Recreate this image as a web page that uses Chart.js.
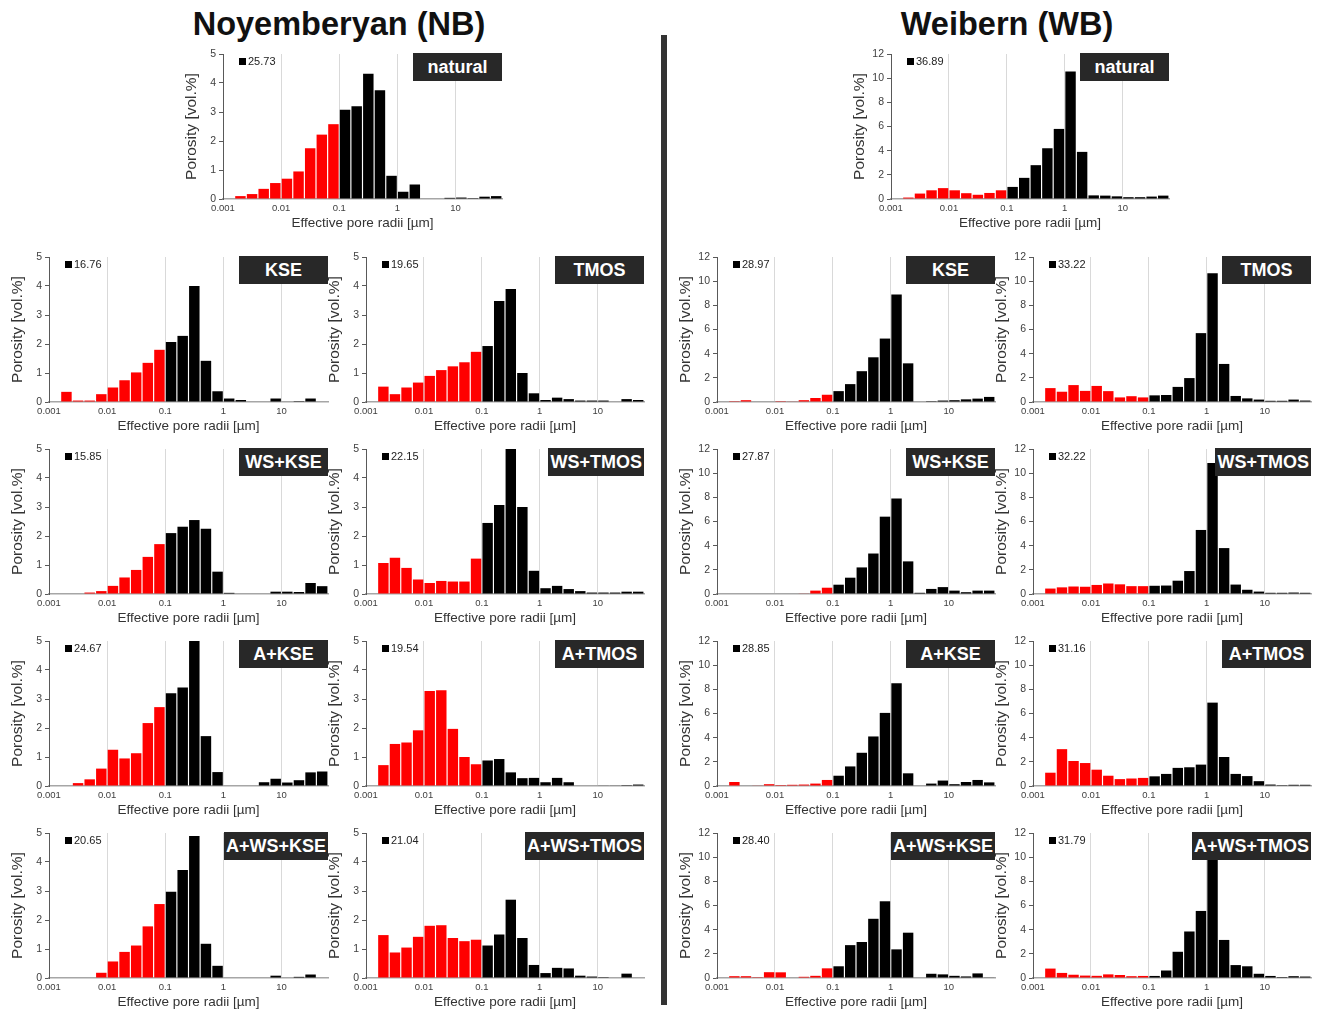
<!DOCTYPE html>
<html>
<head>
<meta charset="utf-8">
<script src="https://cdn.jsdelivr.net/npm/chart.js@4.4.1/dist/chart.umd.min.js"></script>
<style>
body { margin: 0; background: #fff; width: 1317px; height: 1011px; position: relative; overflow: hidden;
       font-family: 'Liberation Sans', Arial, sans-serif; }
canvas { position: absolute; }
.site { position: absolute; top: 6px; font-weight: bold; font-size: 32.5px; color: #111; transform: translateX(-50%); white-space: nowrap; }
.tag { position: absolute; height: 28px; line-height: 28px; background: #282828; color: #fff; font-weight: bold;
       font-size: 18px; text-align: center; min-width: 89px; padding: 0 2px; box-sizing: border-box; white-space: nowrap; }
.tot { position: absolute; font-size: 11px; color: #222; line-height: 12px; white-space: nowrap; }
.tot i { display: inline-block; width: 7px; height: 7px; background: #000; margin-right: 2px; }
#divider { position: absolute; left: 661px; top: 35px; width: 6px; height: 970px; background: #333; }
</style>
</head>
<body>
<div class="site" style="left:339px">Noyemberyan (NB)</div>
<div class="site" style="left:1007px">Weibern (WB)</div>
<div id="divider"></div>
<script>
// bin centres in log10(radius / µm), 5 bins per decade
var binCenters = [-2.9, -2.7, -2.5, -2.3, -2.1, -1.9, -1.7, -1.5, -1.3, -1.1,
                  -0.9, -0.7, -0.5, -0.3, -0.1, 0.1, 0.3, 0.5, 0.7, 0.9, 1.1, 1.3, 1.5, 1.7];
var xTickValues = [-3, -2, -1, 0, 1];
var xTickLabels = ['0.001', '0.01', '0.1', '1', '10'];

// Noyemberyan
var nbNatural = [0, 0.1, 0.17, 0.35, 0.55, 0.7, 0.95, 1.75, 2.22, 2.58, 3.08, 3.2, 4.32, 3.75, 0.8, 0.25, 0.5, 0, 0, 0.04, 0.05, 0.03, 0.08, 0.1];
var nbKSE = [0, 0.35, 0.05, 0.05, 0.27, 0.5, 0.75, 1.02, 1.35, 1.8, 2.07, 2.28, 4.0, 1.42, 0.37, 0.12, 0.07, 0, 0, 0.12, 0, 0.03, 0.12, 0];
var nbTMOS = [0, 0.53, 0.27, 0.5, 0.67, 0.9, 1.1, 1.23, 1.37, 1.73, 1.93, 3.48, 3.9, 1.0, 0.3, 0.07, 0.15, 0.1, 0.05, 0.05, 0.05, 0, 0.1, 0.07];
var nbWSKSE = [0, 0, 0, 0.05, 0.1, 0.28, 0.57, 0.83, 1.28, 1.72, 2.1, 2.32, 2.55, 2.25, 0.77, 0.04, 0, 0, 0, 0.08, 0.08, 0.07, 0.38, 0.27];
var nbWSTMOS = [0, 1.07, 1.25, 0.9, 0.5, 0.38, 0.45, 0.43, 0.43, 1.22, 2.45, 3.07, 5.0, 3.0, 0.8, 0.2, 0.28, 0.17, 0.1, 0.05, 0.05, 0.05, 0.08, 0.08];
var nbAKSE = [0, 0, 0.1, 0.23, 0.6, 1.25, 0.95, 1.13, 2.17, 2.72, 3.2, 3.4, 5.0, 1.72, 0.48, 0, 0, 0, 0.13, 0.25, 0.12, 0.2, 0.47, 0.5];
var nbATMOS = [0, 0.72, 1.45, 1.5, 1.92, 3.28, 3.3, 1.97, 1.0, 0.75, 0.88, 0.93, 0.47, 0.27, 0.28, 0.13, 0.28, 0.13, 0, 0, 0.02, 0.02, 0.03, 0.05];
var nbAWSKSE = [0, 0, 0, 0, 0.18, 0.57, 0.9, 1.12, 1.78, 2.55, 2.97, 3.72, 4.9, 1.18, 0.42, 0, 0, 0, 0, 0.08, 0, 0.04, 0.12, 0];
var nbAWSTMOS = [0, 1.48, 0.88, 1.05, 1.42, 1.8, 1.82, 1.38, 1.27, 1.32, 1.12, 1.5, 2.7, 1.38, 0.45, 0.17, 0.35, 0.33, 0.08, 0.05, 0.03, 0, 0.15, 0];

// Weibern
var wbNatural = [0, 0.12, 0.45, 0.72, 0.9, 0.72, 0.48, 0.35, 0.5, 0.72, 1.0, 1.75, 2.8, 4.2, 5.8, 10.55, 3.9, 0.3, 0.28, 0.22, 0.15, 0.15, 0.2, 0.28];
var wbKSE = [0, 0.07, 0.15, 0, 0, 0.07, 0.05, 0.15, 0.33, 0.6, 0.9, 1.48, 2.55, 3.7, 5.25, 8.9, 3.2, 0, 0.07, 0.12, 0.15, 0.22, 0.28, 0.42];
var wbTMOS = [0, 1.15, 0.85, 1.4, 0.92, 1.33, 0.9, 0.38, 0.48, 0.38, 0.55, 0.58, 1.25, 1.98, 5.7, 10.65, 3.15, 0.5, 0.3, 0.2, 0.1, 0.1, 0.2, 0.12];
var wbWSKSE = [0, 0, 0, 0, 0, 0, 0, 0.05, 0.28, 0.52, 0.77, 1.35, 2.2, 3.35, 6.4, 7.9, 2.7, 0.1, 0.42, 0.57, 0.28, 0.15, 0.28, 0.28];
var wbWSTMOS = [0, 0.45, 0.55, 0.62, 0.6, 0.75, 0.87, 0.8, 0.65, 0.65, 0.68, 0.7, 1.1, 1.9, 5.3, 10.85, 3.8, 0.78, 0.35, 0.2, 0.1, 0.1, 0.12, 0.1];
var wbAKSE = [0, 0.33, 0, 0.05, 0.15, 0.08, 0.1, 0.12, 0.2, 0.5, 0.85, 1.62, 2.75, 4.1, 6.05, 8.5, 1.05, 0, 0.2, 0.45, 0.15, 0.33, 0.5, 0.3];
var wbATMOS = [0, 1.1, 3.05, 2.07, 1.9, 1.35, 0.85, 0.57, 0.62, 0.67, 0.8, 1.0, 1.5, 1.55, 1.77, 6.9, 2.4, 1.0, 0.82, 0.4, 0.12, 0.07, 0.1, 0.1];
var wbAWSKSE = [0, 0.15, 0.15, 0.07, 0.48, 0.47, 0, 0.1, 0.18, 0.8, 0.97, 2.72, 2.98, 4.9, 6.35, 2.37, 3.75, 0, 0.35, 0.3, 0.18, 0.13, 0.38, 0.05];
var wbAWSTMOS = [0, 0.78, 0.42, 0.27, 0.2, 0.18, 0.3, 0.25, 0.15, 0.17, 0.17, 0.62, 2.17, 3.85, 5.55, 10.1, 3.15, 1.07, 0.97, 0.35, 0.17, 0.08, 0.15, 0.12];

var nbTotals = ['25.73', '16.76', '19.65', '15.85', '22.15', '24.67', '19.54', '20.65', '21.04'];
var wbTotals = ['36.89', '28.97', '33.22', '27.87', '32.22', '28.85', '31.16', '28.40', '31.79'];
var treatments = ['natural', 'KSE', 'TMOS', 'WS+KSE', 'WS+TMOS', 'A+KSE', 'A+TMOS', 'A+WS+KSE', 'A+WS+TMOS'];

var FONT = "'Liberation Sans', Arial, sans-serif";
var RED = '#ff0000', BLACK = '#000000';
var PLOT_H = 145;

// plot area [left, top, right] of each panel
var rowTops = [257, 449, 641, 833];
var nbCols = [[49, 328], [366, 644]];
var wbCols = [[717, 995], [1033, 1311]];

var panels = [
    {site: 'NB', i: 0, values: nbNatural, box: [223, 54, 502]},
    {site: 'WB', i: 0, values: wbNatural, box: [891, 54, 1169]},
];
var nbSets = [nbKSE, nbTMOS, nbWSKSE, nbWSTMOS, nbAKSE, nbATMOS, nbAWSKSE, nbAWSTMOS];
var wbSets = [wbKSE, wbTMOS, wbWSKSE, wbWSTMOS, wbAKSE, wbATMOS, wbAWSKSE, wbAWSTMOS];
for (var k = 0; k < 8; k++) {
    var r = Math.floor(k / 2), c = k % 2;
    panels.push({site: 'NB', i: k + 1, values: nbSets[k], box: [nbCols[c][0], rowTops[r], nbCols[c][1]]});
    panels.push({site: 'WB', i: k + 1, values: wbSets[k], box: [wbCols[c][0], rowTops[r], wbCols[c][1]]});
}

function buildChart(canvas, w, h, p) {
    canvas.width = w; canvas.height = h;
    canvas.style.width = w + 'px'; canvas.style.height = h + 'px';
    var nb = p.site === 'NB';
    return new Chart(canvas, {
        type: 'bar',
        data: {
            datasets: [{
                data: p.values.map(function (v, j) { return {x: binCenters[j], y: v}; }),
                backgroundColor: binCenters.map(function (b) { return b < -1 ? RED : BLACK; }),
                borderWidth: 0,
            }]
        },
        options: {
            responsive: false,
            animation: false,
            devicePixelRatio: 1,
            layout: {padding: {left: 0, right: 6, top: 12, bottom: 0}},
            plugins: {legend: {display: false}, tooltip: {enabled: false}},
            datasets: {bar: {categoryPercentage: 1, barPercentage: 0.9}},
            scales: {
                x: {
                    type: 'linear', min: -3, max: 1.8, offset: false,
                    afterBuildTicks: function (s) { s.ticks = xTickValues.map(function (v) { return {value: v}; }); },
                    afterFit: function (s) { s.height = 36; },
                    ticks: {
                        autoSkip: false, maxRotation: 0, padding: 4, color: '#404040',
                        font: {size: 9.5, family: FONT},
                        callback: function (v) { return xTickLabels[xTickValues.indexOf(v)]; }
                    },
                    grid: {color: '#d9d9d9', drawTicks: false, offset: false},
                    border: {color: '#a6a6a6', width: 1.5},
                    title: {display: true, text: 'Effective pore radii [µm]', color: '#333',
                            font: {size: 13.5, family: FONT}, padding: {top: 2, bottom: 4}}
                },
                y: {
                    min: 0, max: nb ? 5 : 12,
                    afterFit: function (s) { s.width = 45; },
                    ticks: {stepSize: nb ? 1 : 2, padding: 3, color: '#404040', font: {size: 10.5, family: FONT}},
                    grid: {drawOnChartArea: false, drawTicks: true, tickLength: 4, color: '#595959'},
                    border: {color: '#595959'},
                    title: {display: true, text: 'Porosity [vol.%]', color: '#333',
                            font: {size: 15.5, family: FONT}, padding: {top: 4, bottom: 2}}
                }
            }
        }
    });
}

panels.forEach(function (p) {
    var L = p.box[0], T = p.box[1], R = p.box[2];
    var canvas = document.createElement('canvas');
    document.body.appendChild(canvas);
    var w = R - L + 51, h = PLOT_H + 48;
    var chart = buildChart(canvas, w, h, p);
    var ca = chart.chartArea;
    var dw = Math.round((R - L) - (ca.right - ca.left));
    var dh = Math.round(PLOT_H - (ca.bottom - ca.top));
    if (dw || dh) {
        chart.destroy();
        w += dw; h += dh;
        chart = buildChart(canvas, w, h, p);
        ca = chart.chartArea;
    }
    canvas.style.left = (L - ca.left) + 'px';
    canvas.style.top = (T - ca.top) + 'px';

    var total = (p.site === 'NB' ? nbTotals : wbTotals)[p.i];
    var tot = document.createElement('div');
    tot.className = 'tot';
    tot.innerHTML = '<i></i>' + total;
    tot.style.left = (L + 16) + 'px';
    tot.style.top = (T + 1) + 'px';
    document.body.appendChild(tot);

    var tag = document.createElement('div');
    tag.className = 'tag';
    tag.textContent = treatments[p.i];
    tag.style.right = (1317 - R) + 'px';
    tag.style.top = (T - 1) + 'px';
    document.body.appendChild(tag);
});
</script>
</body>
</html>
